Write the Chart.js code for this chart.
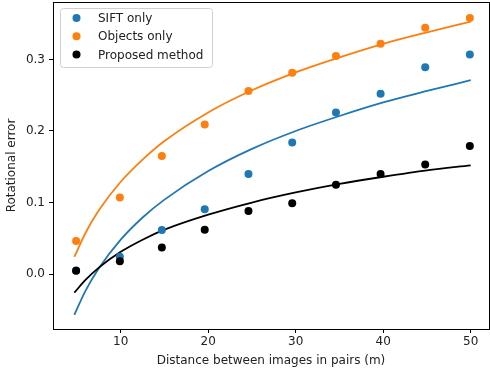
<!DOCTYPE html>
<html>
<head>
<meta charset="utf-8">
<script src="https://cdn.jsdelivr.net/npm/chart.js@4"></script>
<style>
  body { margin: 0; background: #fff; }
</style>
</head>
<body>
<canvas id="chart" width="490" height="373"></canvas>
<script>
// measured points
const pairDistance = [4.9, 9.9, 14.7, 19.6, 24.6, 29.6, 34.6, 39.7, 44.8, 49.9];
const siftOnly = [0.005, 0.024, 0.0615, 0.0905, 0.140, 0.184, 0.226, 0.252, 0.289, 0.307];
const objectsOnly = [0.046, 0.107, 0.165, 0.209, 0.256, 0.2815, 0.305, 0.322, 0.3445, 0.358];
const proposed = [0.0046, 0.0177, 0.037, 0.062, 0.088, 0.099, 0.125, 0.140, 0.153, 0.179];

// fitted curves
const curveX = [4.7, 6, 7.5, 10, 12.5, 15, 20, 25, 30, 35, 40, 45, 50];
const siftCurve = [-0.057, -0.023, 0.008, 0.048, 0.079, 0.104, 0.144, 0.175, 0.200, 0.221, 0.240, 0.256, 0.271];
const objectsCurve = [0.024, 0.058, 0.089, 0.129, 0.160, 0.186, 0.226, 0.257, 0.282, 0.303, 0.322, 0.338, 0.353];
const proposedCurve = [-0.026, -0.008, 0.009, 0.031, 0.048, 0.062, 0.083, 0.100, 0.114, 0.126, 0.136, 0.145, 0.152];

const xTicks = [10, 20, 30, 40, 50];
const yTicks = [0.0, 0.1, 0.2, 0.3];

const BLUE = '#1f77b4', ORANGE = '#ff7f0e', BLACK = '#000000';

Chart.defaults.font.family = 'DejaVu Sans';
Chart.defaults.font.size = 12;
Chart.defaults.color = '#222';

const pts = (xs, ys) => xs.map((x, i) => ({ x: x, y: ys[i] }));

function scatterSet(label, ys, color, order) {
  return {
    label: label,
    data: pts(pairDistance, ys),
    showLine: false,
    pointRadius: 4,
    pointBackgroundColor: color,
    pointBorderWidth: 0,
    order: order
  };
}

function curveSet(ys, color, order) {
  return {
    label: '',
    data: pts(curveX, ys),
    showLine: true,
    borderColor: color,
    borderWidth: 1.8,
    pointRadius: 0,
    cubicInterpolationMode: 'monotone',
    order: order
  };
}

// box around the plot, like matplotlib spines
const frame = {
  id: 'frame',
  afterDraw(chart) {
    const { ctx, chartArea: a } = chart;
    ctx.save();
    ctx.strokeStyle = '#000';
    ctx.lineWidth = 1;
    ctx.strokeRect(a.left + 0.5, a.top + 0.5, a.right - a.left, a.bottom - a.top);
    ctx.restore();
  }
};

// legend in the upper left corner of the plot
const legendBox = {
  id: 'legendBox',
  afterDatasetsDraw(chart) {
    const { ctx, chartArea: a } = chart;
    const bx = a.left + 7, by = a.top + 6, bw = 152, bh = 59;
    ctx.save();
    ctx.beginPath();
    ctx.roundRect(bx + 0.5, by + 0.5, bw, bh, 3);
    ctx.fillStyle = 'rgba(255,255,255,0.8)';
    ctx.fill();
    ctx.strokeStyle = '#d0d0d0';
    ctx.lineWidth = 1;
    ctx.stroke();
    const items = chart.data.datasets.filter(d => d.label);
    ctx.font = '12px "DejaVu Sans"';
    ctx.textBaseline = 'middle';
    items.forEach((d, i) => {
      const cy = by + 10 + i * 18.3;
      ctx.beginPath();
      ctx.arc(bx + 16.5, cy, 4, 0, Math.PI * 2);
      ctx.fillStyle = d.pointBackgroundColor;
      ctx.fill();
      ctx.fillStyle = '#222';
      ctx.fillText(d.label, bx + 38, cy + 1);
    });
    ctx.restore();
  }
};

new Chart(document.getElementById('chart'), {
  type: 'scatter',
  data: {
    datasets: [
      scatterSet('SIFT only', siftOnly, BLUE, 3),
      scatterSet('Objects only', objectsOnly, ORANGE, 2),
      scatterSet('Proposed method', proposed, BLACK, 1),
      curveSet(siftCurve, BLUE, 6),
      curveSet(objectsCurve, ORANGE, 5),
      curveSet(proposedCurve, BLACK, 4)
    ]
  },
  options: {
    responsive: false,
    animation: false,
    events: [],
    layout: { autoPadding: false, padding: { top: 2, right: 1, left: 0, bottom: 0 } },
    plugins: {
      legend: { display: false },
      tooltip: { enabled: false }
    },
    scales: {
      x: {
        type: 'linear',
        min: 2.26,
        max: 52.09,
        afterBuildTicks: s => { s.ticks = xTicks.map(v => ({ value: v })); },
        afterFit: s => { s.height = 44; s.paddingLeft = 0; s.paddingRight = 0; },
        ticks: { padding: 2, callback: v => String(v), color: '#222' },
        grid: { drawOnChartArea: false, tickLength: 4, color: '#000' },
        border: { display: false },
        title: {
          display: true,
          text: 'Distance between images in pairs (m)',
          color: '#222',
          padding: { top: 0, bottom: 5 }
        }
      },
      y: {
        type: 'linear',
        min: -0.0769,
        max: 0.3804,
        afterBuildTicks: s => { s.ticks = yTicks.map(v => ({ value: v })); },
        afterFit: s => { s.width = 53; s.paddingTop = 0; s.paddingBottom = 0; },
        ticks: { padding: 4, callback: v => v.toFixed(1), color: '#222' },
        grid: { drawOnChartArea: false, tickLength: 4, color: '#000' },
        border: { display: false },
        title: {
          display: true,
          text: 'Rotational error',
          color: '#222',
          padding: { top: 5, bottom: 0 }
        }
      }
    }
  },
  plugins: [frame, legendBox]
});
</script>
</body>
</html>
